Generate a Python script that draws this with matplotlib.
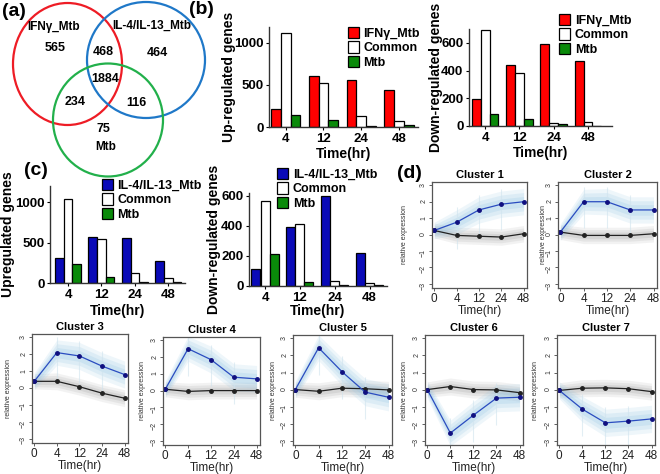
import numpy as np
import matplotlib
matplotlib.use('Agg')
import matplotlib.pyplot as plt
from matplotlib.patches import Ellipse, Patch

plt.rcParams['font.family'] = ['Liberation Sans', 'DejaVu Sans']

W, H = 660, 474

# venn counts
venn_labels = ['IFN\u03b3_Mtb', 'IL-4/IL-13_Mtb', 'Mtb']
venn_counts = [565, 468, 464, 1884, 234, 116, 75]

# bar data
times = ['4', '12', '24', '48']
up_ifng = [212, 608, 560, 440]
up_ifng_common = [1120, 528, 132, 68]
up_ifng_mtb = [140, 88, 12, 28]
down_ifng = [198, 443, 593, 467]
down_ifng_common = [690, 385, 22, 29]
down_ifng_mtb = [89, 53, 17, 0]

up_il4 = [312, 575, 558, 271]
up_il4_common = [1042, 542, 121, 58]
up_il4_mtb = [237, 75, 12, 12]
down_il4 = [113, 396, 600, 222]
down_il4_common = [569, 411, 31, 22]
down_il4_mtb = [213, 24, 7, 4]

# cluster profiles
ctimes = ['0', '4', '12', '24', '48']
clusters = ['Cluster 1', 'Cluster 2', 'Cluster 3', 'Cluster 4', 'Cluster 5', 'Cluster 6', 'Cluster 7']
blue_mean = [
    [0.25, 0.75, 1.5, 1.85, 2.0],
    [0.15, 2.0, 2.0, 1.5, 1.5],
    [0.4, 2.1, 1.9, 1.3, 0.8],
    [0.08, 2.5, 1.85, 0.8, 0.7],
    [0.0, 2.45, 1.05, -0.15, -0.45],
    [0.0, -2.55, -1.5, -0.5, -0.45],
    [-0.05, -1.15, -1.95, -1.85, -1.72],
]
black_mean = [
    [0.25, -0.05, -0.1, -0.15, 0.05],
    [0.15, -0.05, -0.05, -0.05, 0.05],
    [0.4, 0.4, 0.08, -0.3, -0.6],
    [0.08, -0.05, 0.0, 0.0, 0.0],
    [0.0, -0.1, 0.08, 0.05, -0.02],
    [0.0, 0.18, 0.0, -0.02, -0.18],
    [-0.05, 0.08, 0.1, 0.05, -0.12],
]
blue_spread = [0.5, 0.75, 0.8, 0.8, 0.8]
grey_spread = [0.45, 0.5, 0.5, 0.5, 0.5]


def box(l, t, r, b):
    return [l / W, 1 - b / H, (r - l) / W, (b - t) / H]


fig = plt.figure(figsize=(6.6, 4.74), dpi=100)

# ---- venn
av = fig.add_axes([0, 0, 1, 1])
av.set_xlim(0, W)
av.set_ylim(H, 0)
av.axis('off')
av.patch.set_alpha(0)
av.add_patch(Ellipse((67.5, 64), 109, 122, fill=False, ec='#ee1c25', lw=1.6))
av.add_patch(Ellipse((146, 60), 118, 116, fill=False, ec='#1f78c8', lw=1.6))
av.add_patch(Ellipse((108, 120), 110, 113, fill=False, ec='#22b04b', lw=1.6))
lab_pos = [(54, 27), (152, 26), (106, 147)]
for (x, y), t in zip(lab_pos, venn_labels):
    av.text(x, y, t, ha='center', va='center', fontsize=8.5, fontweight='bold')
num_pos = [(55, 48), (103, 52), (157, 53), (105, 79), (75, 102), (136, 103), (103, 129)]
for (x, y), n in zip(num_pos, venn_counts):
    av.text(x, y, str(n), ha='center', va='center', fontsize=9, fontweight='bold')

for t, x, y in [('(a)', 2, 11), ('(b)', 189, 10), ('(c)', 24, 171), ('(d)', 397, 173)]:
    fig.text(x / W, 1 - y / H, t, fontsize=14, fontweight='bold', va='center', ha='left')


def bar_panel(rect, vals, colors, labels, ylim, yticks, ylab, ylab_x, xlab_y, xlim, leg_xy):
    ax = fig.add_axes(rect)
    x = np.arange(len(times))
    w = 0.26
    for i, (v, c) in enumerate(zip(vals, colors)):
        ax.bar(x + (i - 1) * w, v, w, color=c, edgecolor='black', lw=0.9)
    ax.set_xlim(*xlim)
    ax.set_ylim(*ylim)
    ax.set_yticks(yticks)
    ax.set_xticks(x)
    ax.set_xticklabels(times)
    for s in ['top', 'right']:
        ax.spines[s].set_visible(False)
    for s in ['left', 'bottom']:
        ax.spines[s].set_linewidth(1.0)
        ax.spines[s].set_color('#333333')
    ax.tick_params(labelsize=9.5, length=2.5, width=0.8, pad=1.5)
    for lb in ax.get_xticklabels() + ax.get_yticklabels():
        lb.set_fontweight('bold')
    ax.set_ylabel(ylab, fontsize=10, fontweight='bold')
    ax.set_xlabel('Time(hr)', fontsize=10, fontweight='bold')
    inv = ax.transAxes.inverted()
    # label coords: right edge of y label, top edge of x label
    ax.yaxis.set_label_coords(inv.transform(fig.transFigure.transform(((ylab_x + 6) / W, 0.5)))[0], 0.5)
    ax.xaxis.set_label_coords(0.5, inv.transform(fig.transFigure.transform((0, 1 - (xlab_y - 6) / H)))[1])
    handles = [Patch(facecolor=c, edgecolor='black', lw=0.9) for c in colors]
    fig.legend(handles, labels, loc='upper left', bbox_to_anchor=(leg_xy[0] / W, 1 - leg_xy[1] / H),
               frameon=False, prop={'size': 9, 'weight': 'bold'}, handlelength=0.9, handleheight=1.0,
               handletextpad=0.35, labelspacing=0.12, borderpad=0, borderaxespad=0)
    return ax


red, white, green, blue = '#ff0000', '#ffffff', '#0a8a0a', '#0a0ab8'
bar_panel(box(269, 27, 418, 127), [up_ifng, up_ifng_common, up_ifng_mtb], [red, white, green],
          ['IFN\u03b3_Mtb', 'Common', 'Mtb'], (0, 1190), [0, 500, 1000], 'Up-regulated genes',
          230, 153, (-0.44, 3.5), (348, 27))
bar_panel(box(469, 29, 612, 126), [down_ifng, down_ifng_common, down_ifng_mtb], [red, white, green],
          ['IFN\u03b3_Mtb', 'Common', 'Mtb'], (0, 700), [0, 200, 400, 600], 'Down-regulated genes',
          437, 152, (-0.47, 3.7), (559, 14))
bar_panel(box(50, 186, 185, 283), [up_il4, up_il4_common, up_il4_mtb], [blue, white, green],
          ['IL-4/IL-13_Mtb', 'Common', 'Mtb'], (0, 1200), [0, 500, 1000], 'Upregulated genes',
          9, 310, (-0.54, 3.5), (102, 179))
bar_panel(box(249, 193, 387, 286), [down_il4, down_il4_common, down_il4_mtb], [blue, white, green],
          ['IL-4/IL-13_Mtb', 'Common', 'Mtb'], (0, 620), [0, 200, 400, 600], 'Down-regulated genes',
          215, 310, (-0.46, 3.5), (277, 168))

# ---- clusters
cboxes = [(432, 182, 527, 288), (558, 182, 657, 288), (32, 334, 128, 443), (163, 337, 260, 445),
          (293, 335, 392, 445), (425, 335, 523, 445), (557, 335, 655, 445)]
ylab_x = [405, 544, 9, 143, 274, 405, 536]
for k, name in enumerate(clusters):
    ax = fig.add_axes(box(*cboxes[k]))
    x = np.arange(len(ctimes))
    bm = np.array(blue_mean[k])
    gm = np.array(black_mean[k])
    bs = np.array(blue_spread)
    gs = np.array(grey_spread)
    for f, a in [(1.0, 0.12), (0.7, 0.15), (0.4, 0.2)]:
        ax.fill_between(x, gm - gs * f, gm + gs * f, color='#9a9a9a', alpha=a, lw=0)
    for f, a in [(1.0, 0.15), (0.7, 0.18), (0.4, 0.22)]:
        ax.fill_between(x, bm - bs * f, bm + bs * f, color='#8fc3e3', alpha=a, lw=0)
    for xi in x[1:4]:
        ax.vlines(xi, bm[xi] - 1.6, bm[xi] + 0.9, color='#cfe3ee', lw=0.8, alpha=0.6)
    ax.plot(x, gm, color='#222222', lw=0.9, marker='o', ms=2.5)
    ax.plot(x, bm, color='#2a4cc0', lw=0.9, marker='o', ms=2.5, mfc='#101080', mec='#101080')
    ax.set_xlim(-0.1, 4.15)
    ax.set_ylim(-3.25, 3.2)
    ax.set_xticks(x)
    ax.set_xticklabels(ctimes)
    ax.set_yticks(range(-3, 4))
    ax.tick_params(axis='x', labelsize=8.5, length=2.5, width=0.6, pad=1, colors='#444444',
                   labelcolor='#222222')
    ax.tick_params(axis='y', labelsize=5, length=2.5, width=0.6, pad=1, colors='#444444',
                   labelrotation=90, labelcolor='#333333')
    for s in ax.spines.values():
        s.set_color('#555555')
        s.set_linewidth(0.9)
    ax.set_title(name, fontsize=8, fontweight='bold', pad=3)
    ax.set_xlabel('Time(hr)', fontsize=8.5, labelpad=0, color='#222222')
    ax.set_ylabel('relative expression', fontsize=5, labelpad=1, color='#333333')
    inv = ax.transAxes.inverted()
    ax.yaxis.set_label_coords(inv.transform(fig.transFigure.transform(((ylab_x[k] + 3) / W, 0.5)))[0], 0.5)

fig.savefig('out.png', dpi=100)
